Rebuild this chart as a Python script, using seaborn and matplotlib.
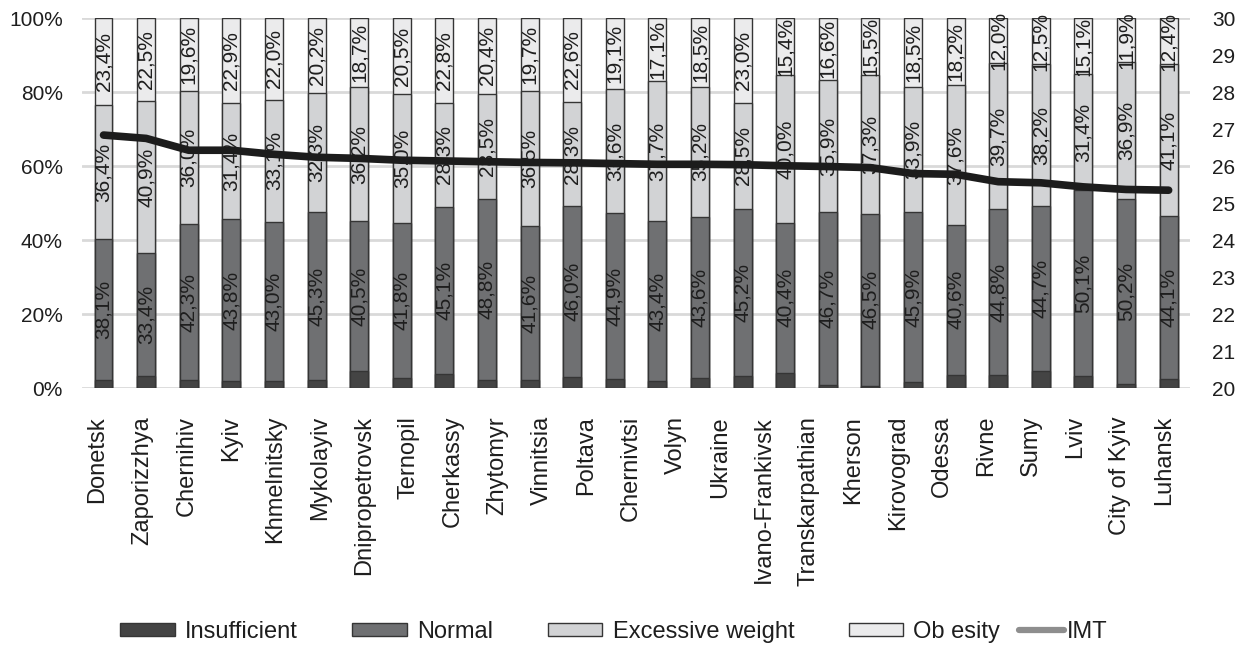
import numpy as np
import pandas as pd
import matplotlib
matplotlib.use("Agg")
import matplotlib.pyplot as plt
import seaborn as sns
from matplotlib.patches import Patch
from matplotlib.lines import Line2D

# Region names shown under the bars
regions = ["Donetsk", "Zaporizzhya", "Chernihiv", "Kyiv", "Khmelnitsky", "Mykolayiv",
           "Dnipropetrovsk", "Ternopil", "Cherkassy", "Zhytomyr", "Vinnitsia", "Poltava",
           "Chernivtsi", "Volyn", "Ukraine", "Ivano-Frankivsk", "Transkarpathian", "Kherson",
           "Kirovograd", "Odessa", "Rivne", "Sumy", "Lviv", "City of Kyiv", "Luhansk"]

# Share of people (%) in each weight group, one value per bar
insufficient = [2.1, 3.2, 2.1, 1.9, 1.9, 2.2, 4.6, 2.7, 3.8, 2.3, 2.2, 3.1, 2.4,
                1.8, 2.7, 3.3, 4.2, 0.8, 0.7, 1.7, 3.6, 3.5, 4.6, 3.4, 1.0, 2.4]
normal = [38.1, 33.4, 42.3, 43.8, 43.0, 45.3, 40.5, 41.8, 45.1, 48.8, 41.6, 46.0, 44.9,
          43.4, 43.6, 45.2, 40.4, 46.7, 46.5, 45.9, 40.6, 44.8, 44.7, 50.1, 50.2, 44.1]
excessive = [36.4, 40.9, 36.0, 31.4, 33.1, 32.3, 36.2, 35.0, 28.3, 28.5, 36.5, 28.3, 33.6,
             37.7, 35.2, 28.5, 40.0, 35.9, 37.3, 33.9, 37.6, 39.7, 38.2, 31.4, 36.9, 41.1]
obesity = [23.4, 22.5, 19.6, 22.9, 22.0, 20.2, 18.7, 20.5, 22.8, 20.4, 19.7, 22.6, 19.1,
           17.1, 18.5, 23.0, 15.4, 16.6, 15.5, 18.5, 18.2, 12.0, 12.5, 15.1, 11.9, 12.4]

# Mean body mass index (right axis)
imt = [26.84, 26.75, 26.43, 26.43, 26.32, 26.24, 26.21, 26.16, 26.14, 26.12, 26.10, 26.09, 26.07,
       26.05, 26.05, 26.04, 26.01, 25.99, 25.96, 25.80, 25.78, 25.58, 25.55, 25.44, 25.37, 25.35]

group_labels = ["Insufficient", "Normal", "Excessive weight", "Ob esity"]
line_label = "IMT"

sns.set_style("white")
plt.rcParams["font.family"] = ["Liberation Sans", "DejaVu Sans"]

df = pd.DataFrame({"bar": np.arange(len(normal)),
                   "ins": insufficient, "nor": normal, "exc": excessive, "obe": obesity,
                   "imt": imt})
df["c1"] = df["ins"]
df["c2"] = df["c1"] + df["nor"]
df["c3"] = df["c2"] + df["exc"]
df["c4"] = df["c3"] + df["obe"]

col_ins = "#444444"
col_nor = "#6f7072"
col_exc = "#d2d3d5"
col_obe = "#ebebec"
edge = "#353535"
txt = "#1e1e1e"

fig = plt.figure(figsize=(12.46, 6.48), dpi=100)
ax = fig.add_axes([0.066, 0.401, 0.889, 0.571])

# stacked bars drawn as cumulative layers, tallest first
for col, color in [("c4", col_obe), ("c3", col_exc), ("c2", col_nor), ("c1", col_ins)]:
    sns.barplot(data=df, x="bar", y=col, color=color, saturation=1, width=0.42,
                edgecolor=edge, linewidth=1.0, ax=ax)

def fmt(v):
    return f"{v:.1f}%".replace(".", ",")

lab_fs = 15
for i, r in df.iterrows():
    ax.text(i, r["c1"] + r["nor"] / 2, fmt(r["nor"]), rotation=90, ha="center", va="center",
            fontsize=lab_fs, color=txt)
    ax.text(i, r["c2"] + r["exc"] / 2, fmt(r["exc"]), rotation=90, ha="center", va="center",
            fontsize=lab_fs, color=txt)
    ax.text(i, r["c3"] + r["obe"] / 2, fmt(r["obe"]), rotation=90, ha="center", va="center",
            fontsize=lab_fs, color=txt)

ax.set_ylim(0, 100)
ax.set_yticks(np.arange(0, 101, 20))
ax.set_yticklabels([f"{v}%" for v in range(0, 101, 20)])
ax.yaxis.grid(True, color="#d9d9d9", linewidth=2)
ax.set_axisbelow(True)
for s in ax.spines.values():
    s.set_visible(False)
ax.tick_params(axis="y", length=0, pad=14, labelsize=15, labelcolor=txt)
ax.set_xlabel("")
ax.set_ylabel("")

# region names spread evenly across the bar row
n_bars = len(normal)
ax.set_xticks(np.linspace(-0.14, n_bars - 1.1, len(regions)))
ax.set_xticklabels(regions, rotation=90, ha="center", va="top")
ax.tick_params(axis="x", length=0, pad=20, labelsize=17, labelcolor=txt)

ax2 = ax.twinx()
sns.lineplot(data=df, x="bar", y="imt", color="#1c1c1c", linewidth=5.5, ax=ax2,
             solid_capstyle="round")
ax2.set_ylim(20, 30)
ax2.set_yticks(np.arange(20, 31, 1))
ax2.tick_params(axis="y", length=0, pad=16, labelsize=15, labelcolor=txt)
ax2.set_ylabel("")
ax2.set_xlabel("")
for s in ax2.spines.values():
    s.set_visible(False)
ax.set_xlim(-0.5, n_bars - 0.5)

# legend: the four weight groups, then the index line as its own entry
patches = [Patch(facecolor=c, edgecolor=edge, linewidth=1)
           for c in (col_ins, col_nor, col_exc, col_obe)]
fig.legend(patches, group_labels, loc="center left", bbox_to_anchor=(0.0795, 0.025), ncol=4,
           frameon=False, fontsize=17, columnspacing=2.3, handlelength=2.3,
           handleheight=0.5, handletextpad=0.45, labelcolor=txt)
imt_handle = Line2D([0], [0], color="#8e8e8e", linewidth=4.5, solid_capstyle="round")
fig.legend([imt_handle], [line_label], loc="center left", bbox_to_anchor=(0.801, 0.025),
           frameon=False, fontsize=17, handlelength=1.9, handletextpad=0.1,
           labelcolor=txt)

fig.savefig("out.png", dpi=100)
